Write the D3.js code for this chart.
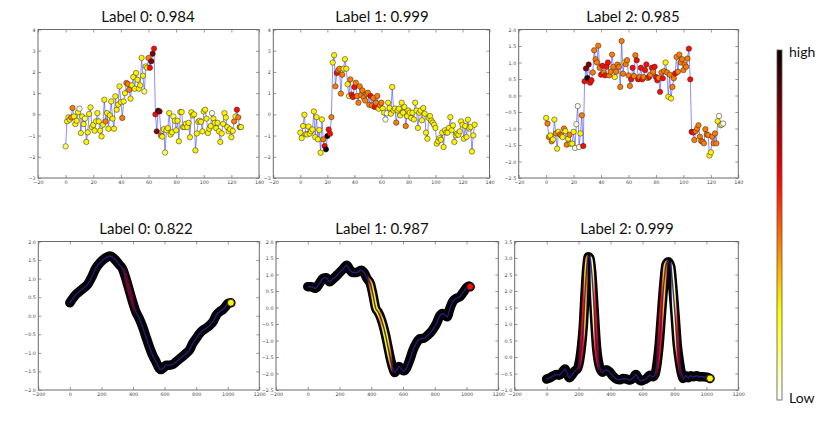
<!DOCTYPE html>
<html><head><meta charset="utf-8">
<script src="https://cdn.jsdelivr.net/npm/d3@7"></script>
<style>body{margin:0;background:#fff}svg{display:block}</style>
</head><body>
<svg id="chart" width="830" height="447"></svg>
<script>
// ---------------- DATA ----------------
const titles = ["Label 0: 0.984","Label 1: 0.999","Label 2: 0.985","Label 0: 0.822","Label 1: 0.987","Label 2: 0.999"];

const topValues0 = [-1.51,-0.33,-0.14,-0.25,-0.15,0.30,-0.10,-0.46,-0.30,0.10,
 0.27,-0.88,-0.10,-0.46,-0.20,-1.30,-0.85,0.02,0.33,-0.60,
 -0.50,-0.77,-0.33,0.06,-0.33,-0.77,-1.04,-0.49,0.69,-0.33,
 0.06,-0.68,-0.05,0.61,-0.20,-0.68,0.85,0.22,0.46,1.32,
 0.58,-0.17,0.61,1.00,1.48,1.43,1.16,0.74,1.37,1.76,
 1.21,1.95,1.63,1.21,1.37,2.66,1.82,1.08,2.26,2.20,
 2.66,2.20,2.50,2.86,3.10,0.00,-0.80,0.17,0.14,-1.00,
 -1.05,-0.70,-1.80,-0.75,-0.65,0.06,-0.95,-0.85,-0.10,-0.30,
 -0.75,-0.30,-1.27,0.11,0.11,-0.60,-0.60,-0.45,-0.60,-0.40,
 -1.08,0.10,-0.05,0.00,-1.70,-0.90,-0.35,-0.30,-0.35,-0.80,
 0.14,0.22,-0.20,-0.88,-0.68,-0.55,0.06,-0.20,-0.40,-0.65,
 -0.40,-0.80,-1.30,-0.90,-0.45,0.06,-0.15,-0.60,-0.80,-0.70,
 -1.08,-0.78,-0.33,-0.10,0.22,-0.14,-0.60,-0.60];
const topColors0 = "lyyyooyyyy"+"wyyylyyyyy"+"yyyyyyyyyo"+"yyyyyyyyyy"+"yoyyoooyyy"+"yyyyyyylyy"+"orddrrdkdo"+"yylyyyyyly"+"yyyyyyyyyy"+"yyyyyyyyyy"+"yyyyyywyyy"+"yyyyyyyyyy"+"yyoyrooy";

const topValues1 = [-0.86,-1.12,-0.55,-0.02,-0.93,-0.95,-0.57,-0.91,-0.80,-0.71,
 0.14,-1.07,-0.13,-1.18,-0.74,-1.81,-0.24,-1.18,-1.49,-1.65,
 -1.02,-0.71,-0.91,-0.13,2.44,2.79,1.32,1.95,2.08,2.15,
 0.98,1.87,2.15,2.60,2.15,1.42,0.86,1.65,0.93,0.82,
 1.29,1.49,0.86,0.55,1.32,0.90,1.13,0.80,0.65,0.95,
 1.02,0.45,0.87,0.42,0.77,0.35,0.55,0.87,0.27,0.42,
 0.55,0.27,0.08,-0.24,0.05,0.55,0.30,0.03,1.29,0.18,
 0.27,-0.39,0.18,0.27,-0.05,0.55,0.08,0.35,-0.55,-0.08,
 0.18,0.08,-0.17,0.08,-0.24,0.55,0.18,-0.64,0.08,0.18,
 -0.28,0.30,0.03,-0.86,-1.15,-0.17,-0.08,-0.30,-0.39,-0.49,
 -0.64,-1.38,-1.27,-1.12,-1.20,-0.86,-1.54,-0.75,-0.86,-0.86,
 -0.64,-0.13,-0.75,-0.52,-1.30,-0.99,-0.91,-0.96,-0.80,-0.33,
 -0.49,-1.15,-0.55,-1.07,-0.25,-0.67,-0.60,-1.75,-0.99,-0.49];
const topColors1 = "yyyyyyyyyy"+"yyyyyyyork"+"krroyyoroo"+"ooyyyyyorr"+"rooooooooo"+"ooroorooyo"+"oyywwyyyyy"+"yoyyyyyyoy"+"yyyyyyyyyy"+"yyyyyyyyyy"+"yyyyyyyyyy"+"yyyyyyyyyy"+"yyyyyyyyyy";

const topValues2 = [-0.68,-0.85,-1.26,-1.21,-1.39,-1.33,-0.73,-1.15,-1.61,-1.10,
 -1.18,-1.21,-1.26,-1.00,-1.08,-1.49,-1.31,-1.19,-1.46,-1.46,
 -1.10,-1.59,-0.87,-0.32,-1.56,-1.15,-0.60,-1.53,0.43,0.82,
 0.53,0.94,0.39,0.46,0.70,1.37,1.10,1.00,1.51,0.84,
 0.63,0.90,0.70,0.61,0.87,1.00,0.61,0.72,1.24,0.87,
 0.56,0.72,0.94,0.87,0.26,1.65,0.66,1.00,0.95,1.07,
 0.61,0.29,0.49,0.84,0.59,1.22,1.07,0.49,0.56,0.84,
 0.49,0.56,0.77,0.94,0.53,0.56,0.63,0.84,0.72,0.87,
 0.56,0.46,0.53,0.11,0.70,0.52,0.74,1.00,0.70,-0.04,
 0.63,-0.09,0.26,0.52,0.67,1.17,0.72,1.24,1.00,1.10,
 0.77,0.94,0.87,1.12,1.42,0.49,-1.10,-1.12,-1.35,-1.08,
 -1.00,-0.90,-1.25,-1.38,-1.40,-1.45,-1.02,-1.18,-1.20,-1.82,
 -1.72,-1.25,-1.45,-1.15,-1.45,-0.78,-0.62,-0.90,-0.88,-0.85];
const topColors2 = "yooyoyyoyy"+"ooyoyoyoyy"+"ywwwwyorrd"+"kdrroooooo"+"rrorrroooo"+"yooooooyoo"+"oorroorror"+"rorrororor"+"rrororoyoy"+"oyoorooooo"+"oooorrrroo"+"oooooooooy"+"yooooywyww";

const bottomX0 = [0,36,79,110,136,163,195,227,255,280,312,333,355,376,397,418,439,461,482,503,524,546,567,578,594,609,631,652,673,705,737,758,779,800,822,843,864,885,907,928,949,970,985,1002,1020];
const bottomY0 = [0.35,0.56,0.72,0.83,1.02,1.27,1.45,1.56,1.61,1.54,1.38,1.27,1.0,0.69,0.38,0.11,-0.07,-0.30,-0.57,-0.83,-1.06,-1.24,-1.42,-1.45,-1.40,-1.33,-1.33,-1.31,-1.24,-1.13,-1.01,-0.92,-0.74,-0.61,-0.48,-0.39,-0.33,-0.26,-0.16,0.02,0.11,0.17,0.24,0.33,0.35];
const bottomC0 = "kkkkkkkkkk"+"kkdddkkkkk"+"kkkkkkkkkk"+"kkkkkkkkkk"+"kkkky";

const bottomX1 = [0,21,48,74,95,116,137,158,189,221,246,263,284,309,337,354,373,394,411,427,442,457,474,491,505,520,537,547,562,575,589,604,621,642,663,684,705,731,758,786,811,832,849,863,878,895,916,937,958,979,1000,1015,1023];
const bottomY1 = [0.63,0.63,0.58,0.73,0.88,0.90,0.78,0.86,1.0,1.16,1.28,1.16,1.06,1.06,1.13,1.06,0.88,0.73,0.38,-0.01,-0.13,-0.28,-0.53,-0.86,-1.19,-1.54,-1.85,-1.97,-1.89,-1.79,-1.86,-1.92,-1.84,-1.59,-1.29,-1.08,-0.95,-0.93,-0.83,-0.68,-0.48,-0.25,-0.18,-0.23,-0.28,-0.03,0.2,0.28,0.33,0.46,0.60,0.65,0.63];
const bottomC1 = "kkkkkkkkkk"+"kkkkkkkoyy"+"yoyyyokkkk"+"kkkkkkkkkk"+"kkkkkkkkkk"+"kkr";

const bottomX2 = [0,21,42,63,79,94,115,125,142,157,177,192,205,219,230,240,251,261,271,282,292,303,313,324,334,351,372,392,413,438,459,480,501,522,543,559,574,589,605,626,647,664,678,693,706,720,735,747,762,777,789,804,818,831,846,856,873,887,902,919,939,960,981,1002,1023];
const bottomY2 = [-0.67,-0.63,-0.57,-0.53,-0.55,-0.49,-0.36,-0.46,-0.63,-0.55,-0.42,-0.36,-0.14,0.36,0.97,1.88,2.69,3.04,2.99,2.59,1.88,0.97,0.26,-0.14,-0.34,-0.46,-0.39,-0.44,-0.57,-0.67,-0.69,-0.65,-0.67,-0.70,-0.63,-0.53,-0.65,-0.72,-0.70,-0.65,-0.55,-0.60,-0.53,-0.14,0.46,1.37,2.28,2.79,2.89,2.74,2.18,1.27,0.36,-0.14,-0.53,-0.65,-0.57,-0.63,-0.57,-0.60,-0.57,-0.60,-0.60,-0.61,-0.65];
const bottomC2 = "kkkkkkkkkk"+"kkdrryokkw"+"lrrdkkkkkk"+"kkkkkkkkkk"+"kkkdrryokk"+"wlrdkkkkkk"+"kkkky";

const xTicksTop = [-20,0,20,40,60,80,100,120,140];
const yTicks0 = [-3,-2,-1,0,1,2,3,4];
const yTicks1 = [-3,-2,-1,0,1,2,3,4];
const yTicks2 = [-2.5,-2.0,-1.5,-1.0,-0.5,0.0,0.5,1.0,1.5,2.0];
const xTicksBottom = [-200,0,200,400,600,800,1000,1200];
const yTicks3 = [-2.0,-1.5,-1.0,-0.5,0.0,0.5,1.0,1.5,2.0];
const yTicks4 = [-2.5,-2.0,-1.5,-1.0,-0.5,0.0,0.5,1.0,1.5,2.0];
const yTicks5 = [-1.0,-0.5,0.0,0.5,1.0,1.5,2.0,2.5,3.0,3.5];
const colorbarLabels = ["high","Low"];

// colour-code letters -> position on the colormap (0 = low, 1 = high)
const colorLevels = {w:0.03,l:0.15,y:0.27,o:0.45,r:0.62,d:0.82,k:1.0};

// ---------------- LAYOUT ----------------
const layout = [
  {l:38,  r:259,  t:29.5, b:178, tx:148, ty:22},
  {l:273.3,r:489.5,t:29.5, b:178, tx:382, ty:22},
  {l:518.7,r:738.3,t:29.5, b:178, tx:633, ty:22},
  {l:38.3,r:259.3, t:241.5,b:390, tx:146, ty:234},
  {l:276, r:498.3, t:241.5,b:390, tx:382, ty:234},
  {l:514.7,r:738.3,t:241.5,b:390, tx:627, ty:234}
];

// matplotlib "hot" colormap, reversed
function hot(v){
  const c = x => Math.max(0, Math.min(1, x));
  const r = c(0.0416 + (1-0.0416)*v/0.365079);
  const g = c((v-0.365079)/(0.746032-0.365079));
  const b = c((v-0.746032)/(1-0.746032));
  return d3.rgb(r*255, g*255, b*255).formatHex();
}
const hotR = t => hot(1 - t);

const svg = d3.select("#chart");
const defs = svg.append("defs");

const panels = [
  {kind:"top", values:topValues0, colors:topColors0, xDomain:[-20,140], yDomain:[-3,4], xt:xTicksTop, yt:yTicks0, fmtY:d3.format("d")},
  {kind:"top", values:topValues1, colors:topColors1, xDomain:[-20,140], yDomain:[-3,4], xt:xTicksTop, yt:yTicks1, fmtY:d3.format("d")},
  {kind:"top", values:topValues2, colors:topColors2, xDomain:[-20,140], yDomain:[-2.5,2.0], xt:xTicksTop, yt:yTicks2, fmtY:d3.format(".1f")},
  {kind:"bottom", xs:bottomX0, ys:bottomY0, colors:bottomC0, xDomain:[-200,1200], yDomain:[-2,2], xt:xTicksBottom, yt:yTicks3, fmtY:d3.format(".1f")},
  {kind:"bottom", xs:bottomX1, ys:bottomY1, colors:bottomC1, xDomain:[-200,1200], yDomain:[-2.5,2], xt:xTicksBottom, yt:yTicks4, fmtY:d3.format(".1f")},
  {kind:"bottom", xs:bottomX2, ys:bottomY2, colors:bottomC2, xDomain:[-200,1200], yDomain:[-1,3.5], xt:xTicksBottom, yt:yTicks5, fmtY:d3.format(".1f")}
];

const tickFont = "DejaVu Sans, sans-serif";

panels.forEach((p, i) => {
  const L = layout[i];
  const x = d3.scaleLinear(p.xDomain, [L.l, L.r]);
  const y = d3.scaleLinear(p.yDomain, [L.b, L.t]);
  const g = svg.append("g");

  const clipId = "clip" + i;
  defs.append("clipPath").attr("id", clipId).append("rect")
    .attr("x", L.l).attr("y", L.t).attr("width", L.r - L.l).attr("height", L.b - L.t);

  const plot = g.append("g").attr("clip-path", `url(#${clipId})`);

  if (p.kind === "top") {
    const pts = p.values.map((v, k) => ({x: k, y: v, c: colorLevels[p.colors[k]] ?? 0.27}));
    plot.append("path").datum(pts)
      .attr("d", d3.line().x(d => x(d.x)).y(d => y(d.y)))
      .attr("fill", "none").attr("stroke", "#3c3cff").attr("stroke-opacity", 0.65).attr("stroke-width", 0.9);
    plot.selectAll("circle.m").data(pts).join("circle").attr("class", "m")
      .attr("cx", d => x(d.x)).attr("cy", d => y(d.y)).attr("r", 2.7)
      .attr("fill", d => hotR(d.c)).attr("stroke", "#222").attr("stroke-width", 0.5);
  } else {
    const pts = p.xs.map((v, k) => ({x: v, y: p.ys[k], c: colorLevels[p.colors[k]] ?? 1}));
    const line = d3.line().x(d => x(d.x)).y(d => y(d.y)).curve(d3.curveMonotoneX);
    const gid = "grad" + i;
    const x0 = x(pts[0].x), x1 = x(pts[pts.length - 1].x);
    const grad = defs.append("linearGradient").attr("id", gid)
      .attr("gradientUnits", "userSpaceOnUse").attr("x1", x0).attr("x2", x1).attr("y1", 0).attr("y2", 0);
    pts.forEach(d => grad.append("stop").attr("offset", (x(d.x) - x0) / (x1 - x0)).attr("stop-color", hotR(d.c)));

    plot.append("path").datum(pts).attr("d", line)
      .attr("fill", "none").attr("stroke", "#030306").attr("stroke-width", 9.5)
      .attr("stroke-linecap", "round").attr("stroke-linejoin", "round");
    plot.append("path").datum(pts).attr("d", line)
      .attr("fill", "none").attr("stroke", `url(#${gid})`).attr("stroke-width", 4.5)
      .attr("stroke-linecap", "round").attr("stroke-linejoin", "round");
    plot.append("path").datum(pts).attr("d", line)
      .attr("fill", "none").attr("stroke", "#20208a").attr("stroke-opacity", 0.9).attr("stroke-width", 1.4);
    const last = pts[pts.length - 1];
    plot.append("circle").attr("cx", x(last.x)).attr("cy", y(last.y)).attr("r", 3.4)
      .attr("fill", hotR(last.c)).attr("stroke", "#111").attr("stroke-width", 0.7);
  }

  const styleAxis = (sel, labels) => {
    sel.select(".domain").remove();
    sel.selectAll(".tick line").attr("stroke", "#555").attr("stroke-width", 0.6);
    sel.selectAll(".tick text").attr("fill", "#444").style("font-family", tickFont).style("font-size", "4.8px");
    if (!labels) sel.selectAll(".tick text").remove();
  };
  g.append("g").attr("transform", `translate(0,${L.b})`)
    .call(d3.axisBottom(x).tickValues(p.xt).tickFormat(d3.format("d")).tickSize(-3).tickPadding(2.5))
    .call(s => styleAxis(s, true));
  g.append("g").attr("transform", `translate(0,${L.t})`)
    .call(d3.axisTop(x).tickValues(p.xt).tickSize(-3)).call(s => styleAxis(s, false));
  g.append("g").attr("transform", `translate(${L.l},0)`)
    .call(d3.axisLeft(y).tickValues(p.yt).tickFormat(p.fmtY).tickSize(-3).tickPadding(2.5))
    .call(s => styleAxis(s, true));
  g.append("g").attr("transform", `translate(${L.r},0)`)
    .call(d3.axisRight(y).tickValues(p.yt).tickSize(-3)).call(s => styleAxis(s, false));

  g.append("rect").attr("x", L.l).attr("y", L.t).attr("width", L.r - L.l).attr("height", L.b - L.t)
    .attr("fill", "none").attr("stroke", "#6a6a6a").attr("stroke-width", 1);

  svg.append("text").attr("x", L.tx).attr("y", L.ty).attr("text-anchor", "middle")
    .style("font-family", "Lato, 'Open Sans', sans-serif").style("font-size", "15px").attr("fill", "#111")
    .text(titles[i]);
});

// ---------------- COLORBAR ----------------
const cbScale = d3.scaleLinear([0, 1], [400, 50]);
const cbGrad = defs.append("linearGradient").attr("id", "cbgrad")
  .attr("x1", 0).attr("x2", 0).attr("y1", 1).attr("y2", 0);
d3.range(0, 1.0001, 0.05).forEach(t => cbGrad.append("stop").attr("offset", t).attr("stop-color", hotR(t)));
svg.append("rect").attr("x", 777).attr("y", cbScale(1)).attr("width", 5).attr("height", cbScale(0) - cbScale(1))
  .attr("fill", "url(#cbgrad)").attr("stroke", "#555").attr("stroke-width", 0.8);
svg.append("text").attr("x", 789).attr("y", cbScale(1) + 7).text(colorbarLabels[0])
  .style("font-family", "Lato, 'Open Sans', sans-serif").style("font-size", "14px").attr("fill", "#111");
svg.append("text").attr("x", 789).attr("y", cbScale(0) + 3).text(colorbarLabels[1])
  .style("font-family", "Lato, 'Open Sans', sans-serif").style("font-size", "14px").attr("fill", "#111");
</script>
</body></html>
